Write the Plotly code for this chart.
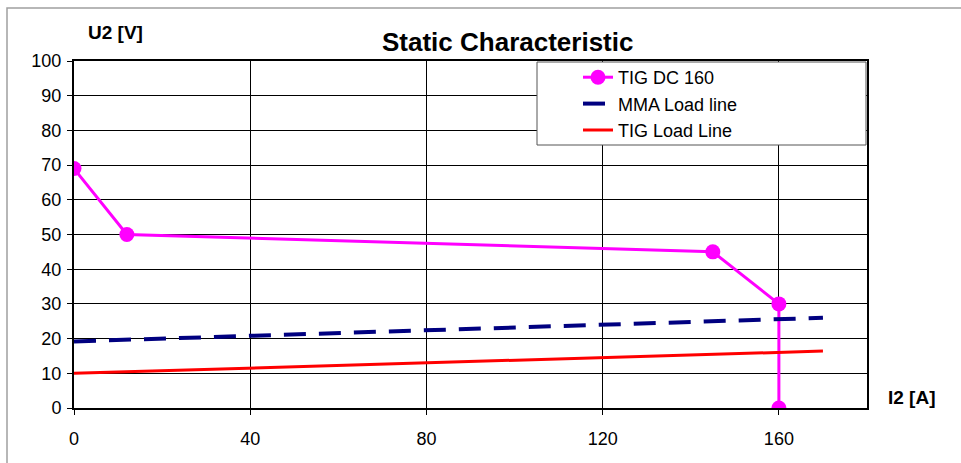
import plotly.graph_objects as go

# Data
tig_dc_x = [0, 12, 145, 160, 160]
tig_dc_y = [69, 50, 45, 30, 0]
mma_x = [0, 170]
mma_y = [19.2, 26.0]
tig_load_x = [0, 170]
tig_load_y = [10, 16.4]
x_ticks = [0, 40, 80, 120, 160]
y_ticks = [0, 10, 20, 30, 40, 50, 60, 70, 80, 90, 100]

FONT = "Liberation Sans, Arial, sans-serif"

fig = go.Figure()
fig.add_trace(go.Scatter(x=tig_dc_x, y=tig_dc_y, name="TIG DC 160", mode="lines+markers",
                         line=dict(color="#FF00FF", width=3),
                         marker=dict(color="#FF00FF", size=15)))
fig.add_trace(go.Scatter(x=mma_x, y=mma_y, name="MMA Load line", mode="lines",
                         line=dict(color="#000080", width=4, dash="22px,13px")))
fig.add_trace(go.Scatter(x=tig_load_x, y=tig_load_y, name="TIG Load Line", mode="lines",
                         line=dict(color="#FF0000", width=3)))

W, H = 961, 463
L, R, T, B = 74, 94, 61, 55
pw, ph = W - L - R, H - T - B

def px(x):
    return (x - L) / pw

def py(y):
    return (H - B - y) / ph

fig.update_layout(
    width=W, height=H,
    margin=dict(l=L, r=R, t=T, b=B),
    paper_bgcolor="white", plot_bgcolor="white",
    font=dict(family=FONT, size=18, color="black"),
    showlegend=True,
    legend=dict(x=px(578), y=py(59), xanchor="left", yanchor="top",
                bgcolor="rgba(0,0,0,0)", borderwidth=0,
                font=dict(family=FONT, size=18, color="black"),
                tracegroupgap=0),
    xaxis=dict(range=[0, 180], tickvals=x_ticks, showgrid=True, gridcolor="black", gridwidth=1,
               showline=True, linecolor="black", linewidth=2, mirror=True,
               ticks="outside", ticklen=5, tickcolor="black", ticklabelstandoff=8,
               zeroline=False, tickfont=dict(size=18)),
    yaxis=dict(range=[0, 100], tickvals=y_ticks, showgrid=True, gridcolor="black", gridwidth=1,
               showline=True, linecolor="black", linewidth=2, mirror=True,
               ticks="outside", ticklen=5, tickcolor="black", ticklabelstandoff=2,
               zeroline=False, tickfont=dict(size=18)),
    shapes=[
        dict(type="rect", xref="paper", yref="paper",
             x0=px(7), x1=px(990), y0=py(480), y1=py(8),
             line=dict(color="#a0a0a0", width=1.5), fillcolor="rgba(0,0,0,0)", layer="below"),
        dict(type="rect", xref="paper", yref="paper",
             x0=px(537), x1=px(866), y0=py(145), y1=py(62),
             line=dict(color="#555555", width=1), fillcolor="white", layer="above"),
    ],
    annotations=[
        dict(text="<b>Static Characteristic</b>", xref="paper", yref="paper",
             x=px(507), y=py(42), xanchor="center", yanchor="middle", showarrow=False,
             font=dict(family=FONT, size=26, color="black")),
        dict(text="<b>U2 [V]</b>", xref="paper", yref="paper",
             x=px(115), y=py(32), xanchor="center", yanchor="middle", showarrow=False,
             font=dict(family=FONT, size=19, color="black")),
        dict(text="<b>I2 [A]</b>", xref="paper", yref="paper",
             x=px(912), y=py(397), xanchor="center", yanchor="middle", showarrow=False,
             font=dict(family=FONT, size=19, color="black")),
    ],
)

fig.write_html("out.html", config={"displayModeBar": False},
               post_script="document.body.style.margin='0';document.body.style.padding='0';document.body.style.overflow='hidden';")
